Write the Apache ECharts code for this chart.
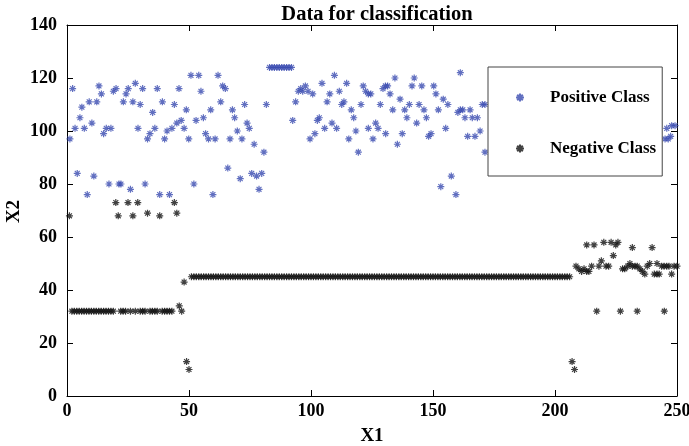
<!DOCTYPE html>
<html>
<head>
<meta charset="utf-8">
<script src="https://cdn.jsdelivr.net/npm/echarts@6/dist/echarts.min.js"></script>
<style>html,body{margin:0;padding:0;background:#fff;}#chart{width:689px;height:446px;}</style>
</head>
<body>
<div id="chart"></div>
<script>
const chartTitle = 'Data for classification';
const seriesNames = ['Positive Class', 'Negative Class'];
const axisNames = ['X1', 'X2'];
const xTicks = { min: 0, max: 250, interval: 50 };
const yTicks = { min: 0, max: 140, interval: 20 };

const positiveClass = [
[1.2,97],[2.3,116],[3.3,101],[4.2,84],[5.3,105],[6.1,109],[7.1,101],[8.3,76],[9.1,111],[10.2,103],
[11,83],[12.2,111],[13.1,117],[14.1,114],[15,99],[16.1,101],[17.2,80],[18,101],[19,115],[20.1,116],
[21.3,80],[22.1,80],[23.1,111],[24.2,114],[25.1,116],[26,78],[27,111],[28,118],[29.1,101],[30,110],
[31,116],[32,80],[33,97],[34,99],[35.1,107],[36,101],[37,116],[38,76],[39.1,111],[40,97],
[41,100],[42,76],[43,101],[44,110],[45,103],[45.9,116],[46.8,104],[48,101],[48.9,108],[49.9,97],
[50.8,121],[52,80],[52.9,104],[54,121],[54.9,115],[55.9,105],[56.8,99],[58,97],[58.9,108],[59.8,76],
[60.7,97],[61.9,121],[63,111],[63.8,117],[64.9,116],[65.9,86],[66.8,97],[67.8,108],[68.7,105],[69.8,100],
[71,82],[71.7,97],[72.8,110],[73.8,103],[74.7,101],[75.7,84],[76.7,95],[77.7,83],[78.7,78],[79.8,84],
[80.7,92],[81.7,110],[83,124],[84,124],[85,124],[86,124],[87,124],[88,124],[89,124],[90,124],[91,124],[92,124],
[92.5,104],[93.7,111],[94.8,115],[95.8,116],[96.6,115],[97.7,117],[98.8,115],[99.6,97],[100.7,114],
[101.6,99],[102.6,104],[103.4,105],[104.5,118],[105.6,101],[106.6,111],[107.7,114],[108.6,103],[109.6,121],[110.5,101],
[111.6,115],[112.6,110],[113.5,111],[114.6,118],[115.5,97],[116.5,108],[117.5,105],[118.4,100],[119.4,92],[120.5,110],
[121.4,117],[122.4,115],[123.5,114],[123.5,101],[124.5,114],[125.4,97],[126.5,103],[127.5,101],[128.4,110],[129.5,116],
[130.5,117],[130.6,99],[131.4,117],[132.4,114],[133.5,108],[134.4,120],[135.4,95],[136.5,112],[137.4,99],[138.4,108],
[139.3,105],[140.3,110],[141.4,117],[142.3,120],[143.3,103],[144.3,110],[145.4,117],[146.3,108],[147.3,105],[148.2,98],
[149.2,99],[150.3,117],[151.2,114],[152.2,108],[153.2,79],[154.2,112],[155.2,101],[156.1,110],[157.5,83],[159.4,76],
[160.2,107],[161.2,108],[161.2,122],[162.2,108],[163.1,105],[164.2,98],[165.2,108],[166.1,105],[167.2,98],[168.2,105],
[169.3,100],[170.2,110],[171.3,110],[171.3,92],
[245.1,97],[245.8,101],[246.4,97],[247.4,98],[247.8,102],[249.2,102]
];

const negativeClass = [
[1,68],[2,32],[3,32],[4,32],[5,32],[6,32],[7,32],[8,32],[9,32],[10,32],
[11,32],[12,32],[13,32],[14,32],[15,32],[16,32],[17,32],[18,32],[19,32],[20,73],
[21,68],[22,32],[23,32],[24,32],[25,73],[26,32],[27,68],[28,32],[29,73],[30,32],
[31,32],[32,32],[33,69],[34,32],[35,32],[36,32],[37,32],[38,68],[39,32],[40,32],
[41,32],[42,32],[43,32],[44,73],[45,69],[46,34],[47,32],[48,43],[49,13],[50,10],
[51,45],[52,45],[53,45],[54,45],[55,45],[56,45],[57,45],[58,45],[59,45],[60,45],
[61,45],[62,45],[63,45],[64,45],[65,45],[66,45],[67,45],[68,45],[69,45],[70,45],
[71,45],[72,45],[73,45],[74,45],[75,45],[76,45],[77,45],[78,45],[79,45],[80,45],
[81,45],[82,45],[83,45],[84,45],[85,45],[86,45],[87,45],[88,45],[89,45],[90,45],
[91,45],[92,45],[93,45],[94,45],[95,45],[96,45],[97,45],[98,45],[99,45],[100,45],
[101,45],[102,45],[103,45],[104,45],[105,45],[106,45],[107,45],[108,45],[109,45],[110,45],
[111,45],[112,45],[113,45],[114,45],[115,45],[116,45],[117,45],[118,45],[119,45],[120,45],
[121,45],[122,45],[123,45],[124,45],[125,45],[126,45],[127,45],[128,45],[129,45],[130,45],
[131,45],[132,45],[133,45],[134,45],[135,45],[136,45],[137,45],[138,45],[139,45],[140,45],
[141,45],[142,45],[143,45],[144,45],[145,45],[146,45],[147,45],[148,45],[149,45],[150,45],
[151,45],[152,45],[153,45],[154,45],[155,45],[156,45],[157,45],[158,45],[159,45],[160,45],
[161,45],[162,45],[163,45],[164,45],[165,45],[166,45],[167,45],[168,45],[169,45],[170,45],
[171,45],[172,45],[173,45],[174,45],[175,45],[176,45],[177,45],[178,45],[179,45],[180,45],
[181,45],[182,45],[183,45],[184,45],[185,45],[186,45],[187,45],[188,45],[189,45],[190,45],
[191,45],[192,45],[193,45],[194,45],[195,45],[196,45],[197,45],[198,45],[199,45],[200,45],
[201,45],[202,45],[203,45],[204,45],[205,45],[206,45],[207,13],[208,10],
[208.6,49],[209.8,48],[210.9,47],[211.9,48],[213,47],[213,57],[213.9,47],[215,49],[216,57],[217.1,32],
[218,49],[219,51],[220,58],[220.9,49],[222,49],[223,58],[223.9,53],[224.9,57],[225.8,58],[226.8,32],
[227.7,48],[228.6,48],[229.8,49],[230.7,50],[231.7,49],[231.7,56],[232.8,49],[233.7,49],[233.7,32],[234.8,48],
[235.8,47],[236.8,46],[237.8,49],[238.8,50],[239.8,56],[240.7,46],[241.8,46],[241.8,50],[242.7,46],[243.7,49],
[244.7,49],[244.8,32],[245.8,49],[246.7,49],[247.8,46],[248.8,49],[250,49]
];

const SERIF = 'Liberation Serif';
const asterisk = 'path://M5,0L5,10M0,5L10,5M1.5,1.5L8.5,8.5M8.5,1.5L1.5,8.5';
const nameStyle = { color: '#000', fontFamily: SERIF, fontWeight: 'bold', fontSize: 19 };

function makeXAxis(pos, showLabel) {
  return {
    type: 'value', position: pos, min: xTicks.min, max: xTicks.max, interval: xTicks.interval,
    axisLine: { show: true, onZero: false, lineStyle: { color: '#000', width: 1 } },
    axisTick: { show: true, inside: true, length: 6, lineStyle: { color: '#000', width: 1 } },
    axisLabel: { show: showLabel, color: '#000', fontFamily: SERIF, fontWeight: 'bold', fontSize: 18, margin: 6 },
    splitLine: { show: false },
    name: showLabel ? axisNames[0] : '', nameLocation: 'middle', nameGap: 31,
    nameTextStyle: nameStyle
  };
}
function makeYAxis(pos, showLabel) {
  return {
    type: 'value', position: pos, min: yTicks.min, max: yTicks.max, interval: yTicks.interval,
    axisLine: { show: true, onZero: false, lineStyle: { color: '#000', width: 1 } },
    axisTick: { show: true, inside: true, length: 6, lineStyle: { color: '#000', width: 1 } },
    axisLabel: { show: showLabel, color: '#000', fontFamily: SERIF, fontWeight: 'bold', fontSize: 18, margin: 10 },
    splitLine: { show: false }
  };
}

const chart = echarts.init(document.getElementById('chart'), null, { renderer: 'canvas' });
chart.setOption({
  animation: false,
  backgroundColor: '#fff',
  title: {
    text: chartTitle, left: 372, top: -1, textAlign: 'center',
    textStyle: { color: '#000', fontFamily: SERIF, fontWeight: 'bold', fontSize: 20.5 }
  },
  grid: { left: 67, right: 12, top: 25, bottom: 50, containLabel: false, outerBoundsMode: 'none' },
  xAxis: [makeXAxis('bottom', true), makeXAxis('top', false)],
  yAxis: [makeYAxis('left', true), makeYAxis('right', false)],
  graphic: [{
    type: 'text', x: 14, y: 211.5, rotation: Math.PI / 2, silent: true,
    style: {
      text: axisNames[1], align: 'center', verticalAlign: 'middle',
      fill: '#000', font: 'bold 19px "Liberation Serif"'
    }
  }],
  legend: {
    orient: 'vertical', left: 488, top: 67,
    data: seriesNames,
    itemWidth: 50, itemHeight: 8, itemGap: 34,
    padding: [22, 6, 19, 27],
    backgroundColor: '#fff', borderColor: '#444', borderWidth: 1,
    textStyle: { color: '#000', fontFamily: SERIF, fontWeight: 'bold', fontSize: 17 }
  },
  series: [
    {
      name: seriesNames[0], type: 'scatter', xAxisIndex: 0, yAxisIndex: 0,
      symbol: asterisk, symbolSize: 7, data: positiveClass,
      itemStyle: { color: 'transparent', borderColor: '#3a4bb0', borderWidth: 1.2 }
    },
    {
      name: seriesNames[1], type: 'scatter', xAxisIndex: 0, yAxisIndex: 0,
      symbol: asterisk, symbolSize: 7, data: negativeClass,
      itemStyle: { color: 'transparent', borderColor: '#111', borderWidth: 1.2 }
    }
  ]
});
</script>
</body>
</html>
